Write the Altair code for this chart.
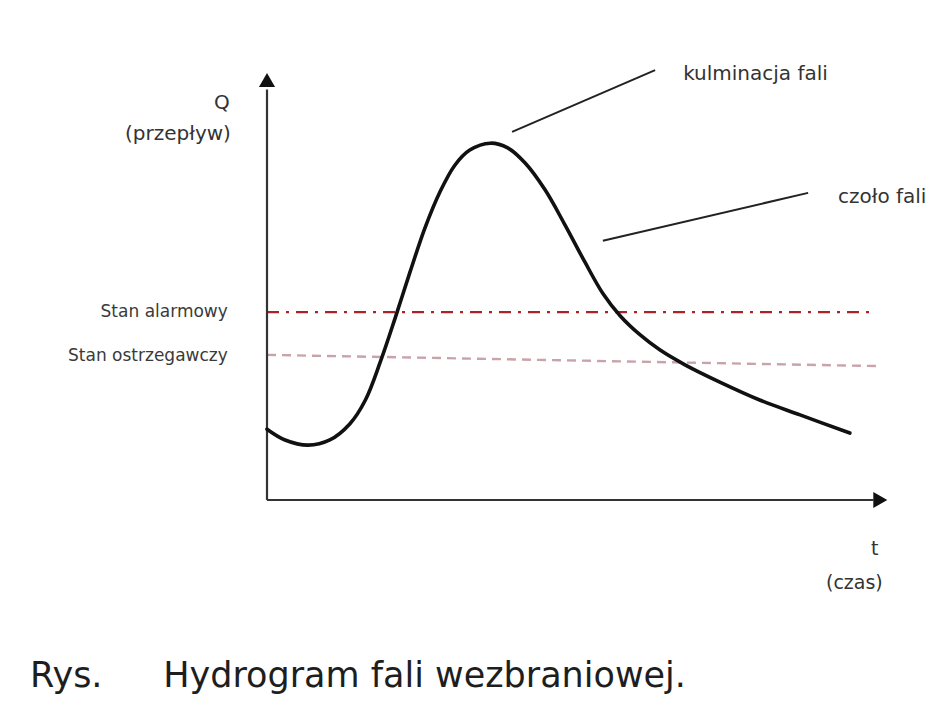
import altair as alt
import pandas as pd

# ---- data (t = time, Q = discharge, arbitrary units) ----
t_vals = [0.00, 0.29, 0.66, 1.01, 1.33, 1.58, 1.82, 2.06, 2.30, 2.54, 2.78, 3.02, 3.26, 3.59,
          3.87, 4.15, 4.47, 4.79, 5.11, 5.40, 5.68, 6.00, 6.32, 6.72, 7.28, 7.93, 8.57, 9.37]
q_vals = [1.64, 1.39, 1.27, 1.39, 1.76, 2.31, 3.19, 4.21, 5.28, 6.30, 7.13, 7.75, 8.10, 8.26,
          8.15, 7.80, 7.18, 6.37, 5.51, 4.78, 4.26, 3.82, 3.47, 3.13, 2.73, 2.31, 1.97, 1.55]

alarm_level = 4.35            # Stan alarmowy
warn_level = [3.36, 3.10]     # Stan ostrzegawczy (start, end)
level_t_end = [9.74, 9.82]

level_labels = ["Stan alarmowy", "Stan ostrzegawczy"]
annot_labels = ["kulminacja fali", "czoło fali"]
y_title = ["Q", "(przepływ)"]
x_title = ["t", "(czas)"]
caption = ["Rys.", "Hydrogram fali wezbraniowej."]

FONT = "DejaVu Sans"

xs = alt.Scale(domain=[-4.164, 10.868], nice=False, zero=False)
ys = alt.Scale(domain=[-4.768, 11.389], nice=False, zero=False)

def X(f):
    return alt.X(f, type="quantitative", scale=xs, axis=None)

def Y(f):
    return alt.Y(f, type="quantitative", scale=ys, axis=None)

curve_df = pd.DataFrame({"t": t_vals, "q": q_vals})
curve = alt.Chart(curve_df).mark_line(
    color="#111111", strokeWidth=3.6, interpolate="catmull-rom", strokeCap="round"
).encode(x=X("t"), y=Y("q"))

alarm_df = pd.DataFrame({"x": [0.0], "x2": [level_t_end[0]], "y": [alarm_level], "y2": [alarm_level]})
alarm = alt.Chart(alarm_df).mark_rule(
    color="#a82428", strokeWidth=2.4, strokeDash=[12, 7, 3, 7]
).encode(x=X("x"), x2="x2", y=Y("y"), y2="y2")

warn_df = pd.DataFrame({"x": [0.0], "x2": [level_t_end[1]], "y": [warn_level[0]], "y2": [warn_level[1]]})
warn = alt.Chart(warn_df).mark_rule(
    color="#c9a3aa", strokeWidth=2.4, strokeDash=[9, 6]
).encode(x=X("x"), x2="x2", y=Y("y"), y2="y2")

axes_df = pd.DataFrame({"x": [0.0, 0.0], "x2": [0.0, 9.75], "y": [0.0, 0.0], "y2": [9.5, 0.0]})
axes = alt.Chart(axes_df).mark_rule(color="#333333", strokeWidth=2.2).encode(
    x=X("x"), x2="x2", y=Y("y"), y2="y2")

up_df = pd.DataFrame({"x": [0.0], "y": [9.72]})
arrow_up = alt.Chart(up_df).mark_point(
    shape="triangle-up", filled=True, size=260, color="#111111", opacity=1
).encode(x=X("x"), y=Y("y"))

right_df = pd.DataFrame({"x": [9.86], "y": [0.0]})
arrow_right = alt.Chart(right_df).mark_point(
    shape="triangle-right", filled=True, size=260, color="#111111", opacity=1
).encode(x=X("x"), y=Y("y"))

lead_df = pd.DataFrame({"x": [3.94, 5.40], "x2": [6.24, 8.70], "y": [8.52, 6.00], "y2": [9.95, 7.11]})
leaders = alt.Chart(lead_df).mark_rule(color="#222222", strokeWidth=2).encode(
    x=X("x"), x2="x2", y=Y("y"), y2="y2")

annot_df = pd.DataFrame({"x": [6.69, 9.18], "y": [9.86, 7.01], "label": annot_labels})
annots = alt.Chart(annot_df).mark_text(
    align="left", baseline="middle", font=FONT, fontSize=20, color="#333333"
).encode(x=X("x"), y=Y("y"), text="label:N")

lvl_df = pd.DataFrame({"x": [-0.63, -0.63], "y": [4.35, 3.33], "label": level_labels})
lvls = alt.Chart(lvl_df).mark_text(
    align="right", baseline="middle", font=FONT, fontSize=17, color="#3a3a3a"
).encode(x=X("x"), y=Y("y"), text="label:N")

ytitle_df = pd.DataFrame({"x": [-0.60, -0.58], "y": [9.19, 8.47], "label": y_title})
ytitle = alt.Chart(ytitle_df).mark_text(
    align="right", baseline="middle", font=FONT, fontSize=20, color="#333333"
).encode(x=X("x"), y=Y("y"), text="label:N")

xtitle_df = pd.DataFrame({"x": [9.83, 9.9], "y": [-1.13, -1.92], "label": x_title})
xtitle = alt.Chart(xtitle_df).mark_text(
    align="right", baseline="middle", font=FONT, fontSize=19, color="#333333"
).encode(x=X("x"), y=Y("y"), text="label:N")

cap_df = pd.DataFrame({"x": [-3.81, -1.67], "y": [-4.08, -4.08], "label": caption})
cap = alt.Chart(cap_df).mark_text(
    align="left", baseline="middle", font=FONT, fontSize=35, color="#1e1e1e"
).encode(x=X("x"), y=Y("y"), text="label:N")

chart = alt.layer(
    warn, alarm, axes, curve, arrow_up, arrow_right, leaders,
    annots, lvls, ytitle, xtitle, cap
).properties(
    width=935, height=698, autosize="none", padding=0, background="#ffffff"
).configure_view(stroke=None)

chart.save("out.html", embed_options={"renderer": "svg", "actions": False})
